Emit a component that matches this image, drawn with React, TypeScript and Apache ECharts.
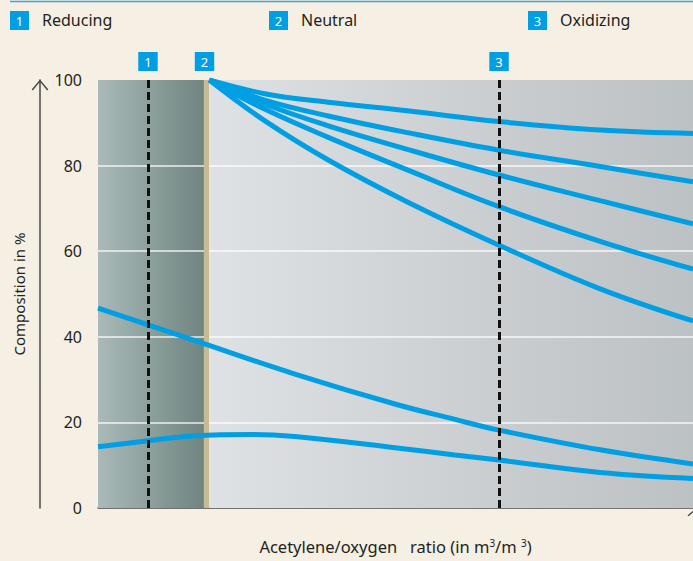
import React, { useEffect, useRef } from "react";
import * as echarts from "echarts";

// ---- data (x: relative position along the acetylene/oxygen ratio axis, 0..100; y: composition in %) ----
const yTicks = [0, 20, 40, 60, 80, 100];
const gridValues = [20, 40, 60, 80];
const legendNames = ["Reducing", "Neutral", "Oxidizing"];
const legendNumbers = ["1", "2", "3"];

const reducingLine = 8.4; // dashed line 1
const neutralLine = 18.24; // tan line 2
const oxidizingLine = 67.4; // dashed line 3
const darkBand = [0, 17.8];
const lightBand = [18.7, 100];

const curveBottom = [
  [0, 14.3], [8.4, 15.7], [16.3, 16.9], [25.9, 17.2], [33.1, 16.7],
  [49.9, 14.1], [60, 12.4], [67.4, 11.2], [84.4, 8.3], [100, 6.9],
];
const curveDescending = [
  [0, 46.7], [8.4, 42.8], [16.3, 39.1], [33.1, 31.3], [49.9, 24.3],
  [60, 20.7], [67.4, 18.2], [84.4, 13.6], [100, 10.3],
];
const curveTop1 = [
  [18.7, 100], [28, 96.8], [38.7, 94.8], [52, 92.8], [67.4, 90.3],
  [84.4, 88.3], [100, 87.5],
];
const curveTop2 = [
  [18.7, 100], [28, 95.3], [38.7, 91.6], [52, 87.7], [67.4, 83.6],
  [84.4, 79.8], [100, 76.2],
];
const curveTop3 = [
  [18.7, 100], [28, 94.4], [38.7, 89.3], [52, 83.8], [67.4, 77.8],
  [84.4, 71.8], [100, 66.4],
];
const curveTop4 = [
  [18.7, 100], [28, 93.2], [38.7, 86.6], [52, 79.0], [67.4, 70.4],
  [84.4, 62.3], [100, 55.8],
];
const curveTop5 = [
  [18.7, 100], [28, 90.5], [38.7, 81.3], [52, 71.5], [67.4, 61.4],
  [84.4, 51.2], [100, 43.7],
];

const FONT = '"Noto Sans", sans-serif';
const BLUE = "#009fe3";
const TEXT = "#231f20";
const AXIS = "#4a4a48";
const chevron = "path://M10,0 L20,12 L18.6,13.2 L10,2.6 L1.4,13.2 L0,12 Z";

const markerLabel = (text: string, offsetX = 0) => ({
  show: true,
  position: "end",
  formatter: text,
  distance: 9,
  offset: [offsetX, 0],
  color: "#ffffff",
  backgroundColor: BLUE,
  fontFamily: FONT,
  fontSize: 13,
  lineHeight: 15,
  padding: [2, 6, 2, 6],
});

export default function App() {
  const ref = useRef<HTMLDivElement>(null);

  useEffect(() => {
    if (!ref.current) return;
    const chart = echarts.init(ref.current, null, { renderer: "svg" });

    const curveSeries = (data: number[][], extra: any = {}) => ({
      type: "line",
      data,
      smooth: 0.4,
      symbol: "none",
      silent: true,
      z: 10,
      lineStyle: { color: BLUE, width: 5, cap: "butt" },
      ...extra,
    });

    const legendGraphics: any[] = [];
    const legendX = [10, 269, 528];
    legendNames.forEach((name, i) => {
      legendGraphics.push({
        type: "rect",
        shape: { x: legendX[i], y: 11, width: 19, height: 19 },
        style: { fill: BLUE },
      });
      legendGraphics.push({
        type: "text",
        x: legendX[i] + 9.5,
        y: 21,
        style: {
          text: legendNumbers[i],
          fill: "#ffffff",
          font: `13px ${FONT}`,
          align: "center",
          verticalAlign: "middle",
        },
      });
      legendGraphics.push({
        type: "text",
        x: legendX[i] + 32,
        y: 20,
        style: {
          text: name,
          fill: TEXT,
          font: `16px ${FONT}`,
          align: "left",
          verticalAlign: "middle",
        },
      });
    });

    const option: any = {
      animation: false,
      backgroundColor: "#f6efe3",
      grid: { left: 98, right: 0, top: 80, bottom: 53, containLabel: false },
      graphic: [
        {
          type: "line",
          shape: { x1: 10, y1: 1.5, x2: 693, y2: 1.5 },
          style: { stroke: "#3aa6da", lineWidth: 1.5 },
        },
        ...legendGraphics,
      ],
      xAxis: {
        type: "value",
        min: 0,
        max: 100,
        offset: 18,
        axisLabel: { show: false },
        axisTick: { show: false },
        splitLine: { show: false },
        axisLine: {
          show: true,
          lineStyle: { color: AXIS, width: 1.5 },
          symbol: ["none", chevron],
          symbolSize: [17, 11],
        },
        name: "Acetylene/oxygen   ratio (in m{sup|3}/m {sup|3})",
        nameLocation: "middle",
        nameGap: 12,
        nameTextStyle: {
          color: TEXT,
          fontFamily: FONT,
          fontSize: 16.5,
          verticalAlign: "top",
          rich: {
            sup: { fontSize: 10, color: TEXT, fontFamily: FONT, verticalAlign: "top" },
          },
        },
      },
      yAxis: [
        {
          type: "value",
          min: 0,
          max: 100,
          interval: 20,
          axisLine: { show: false },
          axisTick: { show: false },
          splitLine: { show: false },
          axisLabel: {
            color: TEXT,
            fontFamily: FONT,
            fontSize: 16,
            margin: 16,
            padding: [10, 0, 0, 0],
            formatter: (v: number) => (yTicks.includes(v) ? String(v) : ""),
          },
        },
        {
          type: "value",
          min: 0,
          max: 100,
          position: "left",
          offset: 58,
          axisLabel: { show: false },
          axisTick: { show: false },
          splitLine: { show: false },
          axisLine: {
            show: true,
            lineStyle: { color: AXIS, width: 1.5 },
            symbol: ["none", chevron],
            symbolSize: [17, 11],
            symbolOffset: [0, -5],
          },
          name: "Composition in %",
          nameLocation: "middle",
          nameGap: 14,
          nameTextStyle: { color: TEXT, fontFamily: FONT, fontSize: 15 },
        },
      ],
      series: [
        curveSeries(curveBottom, {
          markArea: {
            silent: true,
            z: 1,
            data: [
              [
                {
                  xAxis: darkBand[0],
                  itemStyle: {
                    color: {
                      type: "linear", x: 0, y: 0, x2: 1, y2: 0,
                      colorStops: [
                        { offset: 0, color: "#a9bab9" },
                        { offset: 1, color: "#6f857e" },
                      ],
                    },
                  },
                },
                { xAxis: darkBand[1] },
              ],
              [
                {
                  xAxis: lightBand[0],
                  itemStyle: {
                    color: {
                      type: "linear", x: 0, y: 0, x2: 1, y2: 0,
                      colorStops: [
                        { offset: 0, color: "#dfe2e5" },
                        { offset: 0.6, color: "#c9cdd0" },
                        { offset: 1, color: "#bcc1c4" },
                      ],
                    },
                  },
                },
                { xAxis: lightBand[1] },
              ],
            ],
          },
          markLine: {
            silent: true,
            z: 3,
            symbol: ["none", "none"],
            label: { show: false },
            lineStyle: { color: "rgba(255,255,255,0.85)", width: 1.5, type: "solid" },
            data: [
              ...gridValues.map((v) => ({ yAxis: v })),
              {
                xAxis: neutralLine,
                lineStyle: { color: "#c6bb92", width: 5, type: "solid" },
                label: markerLabel(legendNumbers[1], -2),
              },
            ],
          },
        }),
        curveSeries(curveDescending, {
          markLine: {
            silent: true,
            z: 20,
            symbol: ["none", "none"],
            lineStyle: { color: "#111111", width: 3, type: [8, 4] },
            data: [
              { xAxis: reducingLine, label: markerLabel(legendNumbers[0]) },
              { xAxis: oxidizingLine, label: markerLabel(legendNumbers[2]) },
            ],
          },
        }),
        curveSeries(curveTop1),
        curveSeries(curveTop2),
        curveSeries(curveTop3),
        curveSeries(curveTop4),
        curveSeries(curveTop5),
      ],
    };

    chart.setOption(option);
    return () => chart.dispose();
  }, []);

  return (
    <div
      ref={ref}
      style={{ position: "fixed", left: 0, top: 0, width: 693, height: 561 }}
    />
  );
}
